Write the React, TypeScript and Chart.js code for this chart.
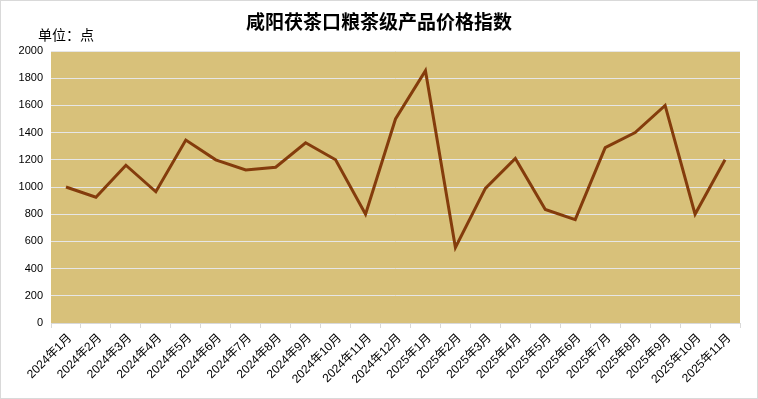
import React, { useEffect, useRef } from "react";
import { Chart, registerables } from "chart.js";

Chart.register(...registerables);

const categories = [
  "2024年1月", "2024年2月", "2024年3月", "2024年4月", "2024年5月", "2024年6月",
  "2024年7月", "2024年8月", "2024年9月", "2024年10月", "2024年11月", "2024年12月",
  "2025年1月", "2025年2月", "2025年3月", "2025年4月", "2025年5月", "2025年6月",
  "2025年7月", "2025年8月", "2025年9月", "2025年10月", "2025年11月",
];
const indexValues = [
  1000, 925, 1160, 965, 1345, 1200, 1125, 1145, 1325, 1200, 800, 1500,
  1855, 555, 990, 1210, 835, 760, 1290, 1400, 1600, 800, 1200,
];
const yTicks = [0, 200, 400, 600, 800, 1000, 1200, 1400, 1600, 1800, 2000];
const titleText = "咸阳茯茶口粮茶级产品价格指数";
const unitText = "单位：点";

const FONT = "'Liberation Sans', 'Noto Sans CJK SC', sans-serif";

export default function App() {
  const ref = useRef<HTMLCanvasElement | null>(null);

  useEffect(() => {
    document.body.style.margin = "0";
    const canvas = ref.current;
    if (!canvas) return;

    const decor = {
      id: "decor",
      beforeDraw(chart: any) {
        const { ctx, chartArea, width, height } = chart;
        ctx.save();
        ctx.fillStyle = "#ffffff";
        ctx.fillRect(0, 0, width, height);
        ctx.fillStyle = "#D8C17A";
        ctx.fillRect(chartArea.left, chartArea.top, chartArea.right - chartArea.left, chartArea.bottom - chartArea.top);
        ctx.restore();
      },
      afterDraw(chart: any) {
        const { ctx, width, height } = chart;
        ctx.save();
        ctx.strokeStyle = "#d9d9d9";
        ctx.lineWidth = 1;
        ctx.strokeRect(0.5, 0.5, width - 1, height - 1);
        ctx.fillStyle = "#000";
        ctx.textBaseline = "middle";
        ctx.textAlign = "center";
        ctx.font = "bold 19px 'Noto Sans CJK SC', serif";
        ctx.fillText(titleText, 379, 22);
        ctx.textAlign = "left";
        ctx.font = "14px 'Noto Sans CJK SC', sans-serif";
        ctx.fillText(unitText, 38, 35);
        ctx.restore();
      },
    };

    const chart = new Chart(canvas, {
      type: "line",
      data: {
        labels: categories,
        datasets: [
          {
            data: indexValues,
            borderColor: "#843C0C",
            backgroundColor: "#843C0C",
            borderWidth: 3,
            pointRadius: 0,
            tension: 0,
            fill: false,
          },
        ],
      },
      options: {
        animation: false,
        responsive: false,
        maintainAspectRatio: false,
        layout: { padding: { top: 51, right: 18, left: 0, bottom: 0 } },
        plugins: {
          legend: { display: false },
          title: { display: false },
          tooltip: { enabled: false },
        },
        scales: {
          x: {
            type: "category",
            offset: true,
            grid: {
              display: true,
              drawOnChartArea: false,
              drawTicks: true,
              tickLength: 5,
              color: "#d9d9d9",
              offset: true,
            },
            border: { display: true, color: "#d9d9d9" },
            ticks: {
              autoSkip: false,
              maxRotation: 45,
              minRotation: 45,
              color: "#000",
              padding: 3,
              labelOffset: 4,
              font: { family: FONT, size: 12 },
            },
            afterFit(scale: any) {
              scale.height = 76;
            },
          },
          y: {
            min: 0,
            max: 2000,
            afterBuildTicks(scale: any) {
              scale.ticks = yTicks.map((v) => ({ value: v }));
            },
            grid: { color: "#e6e6e6", drawTicks: false, lineWidth: 1 },
            border: { display: false },
            ticks: {
              color: "#000",
              padding: 8,
              font: { family: FONT, size: 11 },
              callback: (v: any) => String(v),
            },
            afterFit(scale: any) {
              scale.width = 51;
            },
          },
        },
      },
      plugins: [decor],
    });

    return () => chart.destroy();
  }, []);

  return <canvas ref={ref} width={758} height={399} style={{ display: "block" }} />;
}
